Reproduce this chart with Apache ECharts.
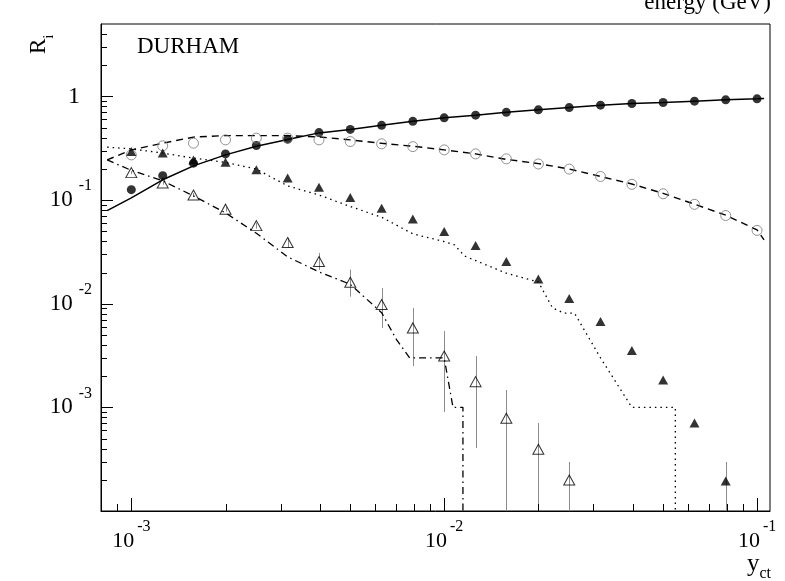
<!DOCTYPE html>
<html>
<head>
<meta charset="utf-8">
<title>Durham jet rates</title>
<script src="https://cdn.jsdelivr.net/npm/echarts@6/dist/echarts.min.js"></script>
<style>
  html, body { margin: 0; padding: 0; background: #ffffff; }
  #chart { width: 785px; height: 581px; }
</style>
</head>
<body>
<div id="chart"></div>
<script>
// y_cut values of the measured points (0.1 decade steps)
const ycut = [0.001, 0.00126, 0.00158, 0.002, 0.00251, 0.00316, 0.00398, 0.00501, 0.00631, 0.00794,
              0.01, 0.0126, 0.0158, 0.02, 0.0251, 0.0316, 0.0398, 0.0501, 0.0631, 0.0794, 0.1];

// measured jet rates
const rate2 = [0.126, 0.172, 0.227, 0.279, 0.336, 0.387, 0.448, 0.481, 0.526, 0.575, 0.622,
               0.660, 0.702, 0.742, 0.781, 0.824, 0.854, 0.873, 0.901, 0.927, 0.948];
const rate3 = [0.273, 0.334, 0.354, 0.381, 0.396, 0.396, 0.381, 0.367, 0.349, 0.328, 0.305,
               0.279, 0.250, 0.223, 0.199, 0.169, 0.142, 0.115, 0.091, 0.071, 0.051];
const rate4 = [0.294, 0.284, 0.244, 0.232, 0.196, 0.163, 0.133, 0.106, 0.0835, 0.0658, 0.0497,
               0.0364, 0.0255, 0.0173, 0.0112, 0.00672, 0.00353, 0.00184, 0.000708, 0.000195];
const rate5 = [0.184, 0.146, 0.112, 0.0817, 0.0567, 0.0389, 0.0255, 0.0161, 0.00984, 0.00584,
               0.00313, 0.00177, 0.000785, 0.000394, 0.000199];

// error band limits of the >=5 jet rate (lower limit 1e-4 = off scale)
const rate5Hi = [0.190, 0.151, 0.117, 0.086, 0.0605, 0.0432, 0.0309, 0.0213, 0.0142, 0.00911,
                 0.00546, 0.00313, 0.00147, 0.000707, 0.000297];
const rate5Lo = [0.178, 0.141, 0.107, 0.0775, 0.053, 0.0346, 0.0212, 0.0117, 0.00584, 0.00251,
                 0.000903, 0.000406, 0.0001, 0.0001, 0.0001];
// error limits of the last 4 jet point
const rate4LastHi = 0.000297;
const rate4LastLo = 0.0001;

// model predictions
const model2X = [0.000837, 0.001, 0.00126, 0.00158, 0.002, 0.00251, 0.00316, 0.00398, 0.00501, 0.00631, 0.00794,
                 0.01, 0.0126, 0.0158, 0.02, 0.0251, 0.0316, 0.0398, 0.0501, 0.0631, 0.0794, 0.1, 0.1053];
const model2Y = [0.0792, 0.105, 0.157, 0.214, 0.273, 0.330, 0.385, 0.445, 0.481, 0.526, 0.575,
                 0.622, 0.660, 0.702, 0.742, 0.781, 0.824, 0.854, 0.873, 0.901, 0.927, 0.948, 0.955];
const model3X = model2X;
const model3Y = [0.244, 0.305, 0.354, 0.405, 0.419, 0.419, 0.419, 0.407, 0.381, 0.353, 0.331,
                 0.305, 0.279, 0.247, 0.225, 0.199, 0.169, 0.143, 0.116, 0.0913, 0.0715, 0.0516, 0.0413];
const model4X = [0.000837, 0.001, 0.00126, 0.00158, 0.002, 0.00251, 0.00316, 0.00398, 0.00501, 0.00631, 0.00794,
                 0.01, 0.0108, 0.0116, 0.0158, 0.02, 0.0222, 0.0242, 0.0261, 0.0316, 0.0398, 0.0548, 0.0548];
const model4Y = [0.324, 0.312, 0.284, 0.254, 0.231, 0.199, 0.137, 0.112, 0.0866, 0.0684, 0.0472,
                 0.0398, 0.0369, 0.0289, 0.0197, 0.0162, 0.0091, 0.0081, 0.0081, 0.003, 0.001, 0.001, 0.0001];
const model5X = [0.000837, 0.001, 0.00126, 0.00158, 0.002, 0.00251, 0.00316, 0.00398, 0.00501, 0.00631,
                 0.00704, 0.00776, 0.01, 0.01067, 0.01148, 0.01148];
const model5Y = [0.244, 0.1935, 0.1532, 0.1098, 0.0752, 0.0479, 0.0283, 0.0203, 0.0154, 0.0082,
                 0.0045, 0.003, 0.003, 0.001, 0.001, 0.0001];

// axis ranges
const X_MIN = 0.0008, X_MAX = 0.11;
const Y_MIN = 0.0001, Y_MAX = 5;

const SERIF = 'Liberation Serif';

const pairs = (xs, ys) => ys.map((y, i) => [xs[i], y]);
const isDecade = v => {
  const l = Math.log10(v);
  return Math.abs(l - Math.round(l)) < 1e-6;
};

// ROOT-like log ticks: long at decades, short at 2..9
const xTicks = [];
for (let e = -4; e <= -1; e++) {
  for (let m = 1; m <= 9; m++) {
    const v = m * Math.pow(10, e);
    if (v > X_MIN * 1.001 && v < X_MAX * 0.999) xTicks.push([v, Y_MIN, m === 1 ? 13 : 7]);
  }
}
const yTicks = [];
for (let e = -4; e <= 0; e++) {
  for (let m = 1; m <= 9; m++) {
    const v = m * Math.pow(10, e);
    if (v > Y_MIN * 1.001 && v < Y_MAX * 0.999) yTicks.push([X_MIN, v, m === 1 ? 12 : 6]);
  }
}

const errBars5 = rate5.map((v, i) => [ycut[i], rate5Lo[i], rate5Hi[i]]);
const errBars4 = [[ycut[rate4.length - 1], rate4LastLo, rate4LastHi]];

function renderErr(params, api) {
  const lo = api.coord([api.value(0), api.value(1)]);
  const hi = api.coord([api.value(0), api.value(2)]);
  const x = Math.round(lo[0]) + 0.5;
  return { type: 'line', shape: { x1: x, y1: lo[1], x2: x, y2: hi[1] },
           style: { stroke: '#8c8c8c', lineWidth: 1 } };
}

const chart = echarts.init(document.getElementById('chart'));

const option = {
  animation: false,
  backgroundColor: '#ffffff',
  grid: {
    left: 101, top: 24, width: 669, height: 487,
    show: true, borderColor: '#000', borderWidth: 1,
    backgroundColor: 'transparent',
    outerBoundsMode: 'none'
  },
  xAxis: {
    type: 'log', logBase: 10, min: X_MIN, max: X_MAX,
    splitLine: { show: false },
    axisTick: { show: false },
    axisLine: { show: true, lineStyle: { color: '#000', width: 1 } },
    axisLabel: {
      margin: 8,
      formatter: v => isDecade(v) ? '{b|10}{s|' + Math.round(Math.log10(v)) + '}' : '',
      rich: {
        b: { fontFamily: SERIF, fontSize: 22, color: '#000', lineHeight: 33, verticalAlign: 'bottom' },
        s: { fontFamily: SERIF, fontSize: 16, color: '#000', lineHeight: 33, verticalAlign: 'top', padding: [0, 0, 0, 3] }
      }
    }
  },
  yAxis: {
    type: 'log', logBase: 10, min: Y_MIN, max: Y_MAX,
    splitLine: { show: false },
    axisTick: { show: false },
    axisLine: { show: true, lineStyle: { color: '#000', width: 1 } },
    axisLabel: {
      margin: 9,
      formatter: v => {
        if (!isDecade(v)) return '';
        const e = Math.round(Math.log10(v));
        if (e <= -4) return '';
        if (e === 0) return '{one|1}';
        return '{b|10}{s|' + e + '}';
      },
      rich: {
        b: { fontFamily: SERIF, fontSize: 23, color: '#000', lineHeight: 44, verticalAlign: 'middle' },
        s: { fontFamily: SERIF, fontSize: 16, color: '#000', lineHeight: 44, verticalAlign: 'top', padding: [0, 0, 0, 6] },
        one: { fontFamily: SERIF, fontSize: 24, color: '#000', lineHeight: 44, verticalAlign: 'middle', padding: [0, 12, 0, 0] }
      }
    }
  },
  graphic: [
    { type: 'text', left: 137, top: 35,
      style: { text: 'DURHAM', font: '23px "Liberation Serif"', fill: '#000' } },
    { type: 'text', x: 771, y: 14,
      style: { text: 'energy (GeV)', font: '23px "Liberation Serif"', fill: '#000', align: 'right', verticalAlign: 'bottom' } },
    { type: 'text', x: 747, y: 552,
      style: { text: '{y|y}{c|ct}', fill: '#000',
        rich: {
          y: { fontFamily: SERIF, fontSize: 25, lineHeight: 30, verticalAlign: 'top' },
          c: { fontFamily: SERIF, fontSize: 16, lineHeight: 30, verticalAlign: 'bottom' }
        } } },
    { type: 'text', x: 27, y: 54, rotation: Math.PI / 2,
      style: { text: '{r|R}{i|i}', fill: '#000',
        rich: {
          r: { fontFamily: SERIF, fontSize: 23, lineHeight: 30, verticalAlign: 'top' },
          i: { fontFamily: SERIF, fontSize: 15, lineHeight: 30, verticalAlign: 'bottom' }
        } } }
  ],
  series: [
    { type: 'custom', name: 'xticks', data: xTicks, encode: { x: 0, y: 1 }, silent: true, clip: false, z: 5,
      renderItem: (params, api) => {
        const p = api.coord([api.value(0), api.value(1)]);
        const x = Math.round(p[0]) + 0.5;
        return { type: 'line', shape: { x1: x, y1: p[1], x2: x, y2: p[1] - api.value(2) },
                 style: { stroke: '#000', lineWidth: 1 } };
      } },
    { type: 'custom', name: 'yticks', data: yTicks, encode: { x: 0, y: 1 }, silent: true, clip: false, z: 5,
      renderItem: (params, api) => {
        const p = api.coord([api.value(0), api.value(1)]);
        const y = Math.round(p[1]) + 0.5;
        return { type: 'line', shape: { x1: p[0], y1: y, x2: p[0] + api.value(2), y2: y },
                 style: { stroke: '#000', lineWidth: 1 } };
      } },
    { type: 'custom', name: 'err5', data: errBars5, encode: { x: 0, y: [1, 2] }, silent: true, z: 2, renderItem: renderErr },
    { type: 'custom', name: 'err4', data: errBars4, encode: { x: 0, y: [1, 2] }, silent: true, z: 2, renderItem: renderErr },
    { type: 'line', name: 'model R2', data: pairs(model2X, model2Y), showSymbol: false, z: 3,
      lineStyle: { color: '#000', width: 1.5, type: 'solid' } },
    { type: 'line', name: 'model R3', data: pairs(model3X, model3Y), showSymbol: false, z: 3,
      lineStyle: { color: '#000', width: 1.4, type: [7, 5] } },
    { type: 'line', name: 'model R4', data: pairs(model4X, model4Y), showSymbol: false, z: 3,
      lineStyle: { color: '#000', width: 1.3, type: [1.5, 4] } },
    { type: 'line', name: 'model R5', data: pairs(model5X, model5Y), showSymbol: false, z: 3,
      lineStyle: { color: '#000', width: 1.3, type: [7, 4, 1.5, 4] } },
    { type: 'scatter', name: 'R2', data: pairs(ycut, rate2), symbol: 'circle', symbolSize: 9, z: 4,
      itemStyle: { color: '#000' } },
    { type: 'scatter', name: 'R3', data: pairs(ycut, rate3), symbol: 'circle', symbolSize: 10, z: 4,
      itemStyle: { color: 'rgba(0,0,0,0)', borderColor: '#777', borderWidth: 1 } },
    { type: 'scatter', name: 'R4', data: pairs(ycut, rate4), symbol: 'triangle', symbolSize: [10, 9], z: 4,
      itemStyle: { color: '#000' } },
    { type: 'scatter', name: 'R5', data: pairs(ycut, rate5), symbol: 'triangle', symbolSize: [11, 10], z: 4,
      itemStyle: { color: 'rgba(0,0,0,0)', borderColor: '#000', borderWidth: 1 } }
  ]
};

chart.setOption(option);
</script>
</body>
</html>
